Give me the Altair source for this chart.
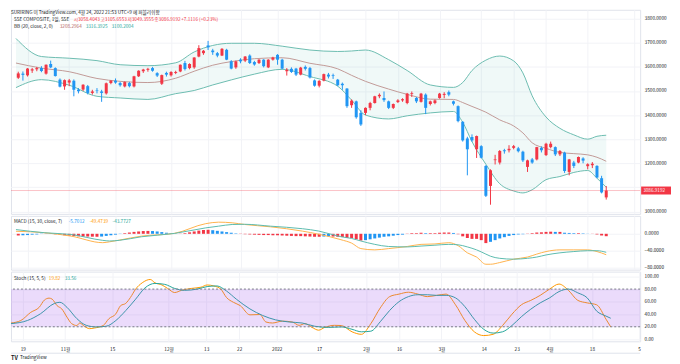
import altair as alt
import pandas as pd

# ---------------- data ----------------
bar_i = list(range(-2, 126))
open_ = [3555, 3572, 3565, 3585, 3590, 3595, 3572, 3612, 3595, 3547, 3519, 3535, 3543, 3506, 3506, 3520, 3492, 3504, 3498, 3490,
         3533, 3543, 3533, 3519, 3533, 3519, 3561, 3582, 3588, 3595, 3574, 3530, 3575, 3565, 3575, 3581, 3616, 3595, 3598, 3643,
         3657, 3689, 3668, 3657, 3647, 3671, 3623, 3598, 3630, 3626, 3647, 3620, 3616, 3630, 3598, 3630, 3650, 3630, 3582, 3592,
         3593, 3568, 3600, 3595, 3544, 3522, 3543, 3568, 3565, 3547, 3530, 3510, 3441, 3457, 3409, 3409, 3430, 3450, 3478, 3471,
         3457, 3430, 3454, 3461, 3450, 3488, 3471, 3455, 3485, 3446, 3450, 3471, 3484, 3495, 3457, 3437, 3372, 3303, 3309, 3258,
         3271, 3189, 3106, 3213, 3203, 3254, 3254, 3264, 3262, 3248, 3185, 3216, 3216, 3264, 3234, 3267, 3267, 3237, 3244, 3164,
         3203, 3203, 3220, 3188, 3192, 3189, 3138, 3058.4043]
high_ = [3580, 3581, 3595, 3596, 3600, 3603, 3610, 3626, 3598, 3552, 3548, 3550, 3548, 3512, 3528, 3525, 3505, 3512, 3505, 3535,
         3545, 3552, 3538, 3540, 3538, 3563, 3586, 3592, 3596, 3600, 3578, 3568, 3580, 3582, 3584, 3610, 3625, 3615, 3640, 3690,
         3670, 3708, 3675, 3662, 3678, 3675, 3628, 3626, 3636, 3645, 3652, 3625, 3632, 3632, 3632, 3642, 3653, 3634, 3595, 3598,
         3596, 3600, 3606, 3600, 3548, 3545, 3572, 3575, 3572, 3550, 3535, 3512, 3465, 3460, 3420, 3432, 3455, 3480, 3490, 3498,
         3460, 3448, 3466, 3470, 3492, 3498, 3475, 3492, 3490, 3460, 3465, 3492, 3495, 3502, 3460, 3440, 3375, 3310, 3320, 3315,
         3275, 3192, 3175, 3235, 3255, 3260, 3275, 3276, 3268, 3252, 3215, 3222, 3268, 3270, 3285, 3290, 3270, 3255, 3248, 3218,
         3210, 3228, 3225, 3200, 3205, 3192, 3148, 3105.6553]
low_ = [3550, 3543, 3560, 3575, 3582, 3578, 3568, 3595, 3560, 3515, 3505, 3520, 3478, 3490, 3500, 3486, 3485, 3490, 3455, 3485,
        3528, 3530, 3518, 3515, 3515, 3515, 3558, 3575, 3580, 3580, 3558, 3525, 3560, 3560, 3570, 3578, 3585, 3590, 3592, 3640,
        3650, 3670, 3650, 3640, 3645, 3628, 3590, 3592, 3615, 3620, 3612, 3605, 3612, 3598, 3595, 3626, 3609, 3590, 3564, 3575,
        3562, 3565, 3585, 3552, 3518, 3515, 3540, 3552, 3550, 3520, 3505, 3430, 3430, 3385, 3355, 3400, 3420, 3448, 3470, 3455,
        3425, 3425, 3450, 3455, 3445, 3475, 3450, 3452, 3404, 3440, 3445, 3468, 3470, 3478, 3440, 3370, 3290, 3150, 3289, 3222,
        3220, 3060, 3028, 3195, 3195, 3240, 3245, 3258, 3245, 3205, 3164, 3198, 3212, 3245, 3230, 3262, 3230, 3230, 3160, 3150,
        3180, 3200, 3200, 3175, 3180, 3138, 3075, 3049.3555]
close_ = [3573, 3567, 3593, 3590, 3595, 3583, 3609, 3598, 3562, 3518, 3545, 3544, 3505, 3499, 3526, 3492, 3498, 3502, 3492, 3532,
          3543, 3535, 3524, 3537, 3520, 3561, 3584, 3589, 3592, 3584, 3564, 3566, 3568, 3579, 3579, 3609, 3591, 3612, 3639, 3678,
          3667, 3681, 3661, 3647, 3675, 3630, 3593, 3623, 3623, 3643, 3616, 3610, 3630, 3603, 3630, 3639, 3630, 3593, 3588, 3579,
          3568, 3597, 3592, 3556, 3522, 3542, 3570, 3560, 3562, 3524, 3524, 3437, 3460, 3391, 3361, 3430, 3450, 3478, 3484, 3462,
          3430, 3446, 3461, 3466, 3489, 3491, 3457, 3489, 3430, 3457, 3461, 3489, 3488, 3485, 3447, 3375, 3295, 3258, 3295, 3313,
          3223, 3065, 3171, 3216, 3251, 3250, 3260, 3271, 3250, 3212, 3212, 3203, 3267, 3254, 3281, 3281, 3237, 3251, 3168, 3216,
          3189, 3226, 3211, 3196, 3198, 3141, 3079, 3086.9192]

bb_i = [-2.5, 3, 9, 15, 20, 26, 32, 36, 40, 44, 49, 55, 61, 67, 70, 73, 78, 82, 87, 92, 94, 96, 99, 102, 105, 107, 109, 112,
        115, 118, 121, 123, 125]
bb_up = [3718, 3643, 3636, 3626, 3609, 3605, 3617, 3662, 3689, 3698, 3698, 3686, 3670, 3664, 3666, 3670, 3630, 3585, 3525,
         3515, 3535, 3585, 3628, 3645, 3625, 3575, 3480, 3392, 3345, 3318, 3300, 3312, 3316.3925]
bb_mid = [3616, 3595, 3580, 3552, 3540, 3535, 3553, 3582, 3607, 3622, 3634, 3638, 3615, 3592, 3565, 3540, 3508, 3486, 3466,
          3465, 3452, 3436, 3412, 3380, 3355, 3326, 3285, 3262, 3245, 3240, 3235, 3225, 3208.2964]
bb_lo = [3514, 3547, 3524, 3478, 3471, 3465, 3489, 3502, 3525, 3546, 3570, 3590, 3560, 3520, 3462, 3400, 3384, 3397, 3409,
         3415, 3370, 3290, 3196, 3115, 3085, 3077, 3090, 3132, 3145, 3162, 3170, 3138, 3100.2004]

macd_i = [-2.5, 3.75, 9.4, 16.25, 17.7, 19.8, 24.6, 31.7, 38.5, 41.25, 44.2, 46.9, 52.5, 59.4, 62.9, 67.7, 70, 72, 75, 78,
          82, 85, 88, 91, 93, 95, 97, 99, 100, 102, 105, 108, 110, 112, 115, 118, 121, 123, 125]
macd_v = [6, 2.4, -5.5, -21, -19, -15, -5.5, 1, 24, 27.5, 26, 22, 16.5, 6.3, -1, -14, -22, -35, -38, -35,
          -30, -25, -24, -21, -28, -45, -55, -72, -72, -68, -60, -55, -48, -42, -38, -38, -38, -42, -49.4739]
sig_v = [10, 2.4, -1.6, -15.5, -17, -15.5, -7, 0.8, 14, 18, 22, 22.5, 18, 12, 6.5, -7, -11, -17, -25, -30,
         -31, -29, -27, -25, -26, -31, -38, -48, -53, -58, -60, -58, -55, -50, -45, -42, -40, -40, -43.7727]
hist_v = [-4, -3.5, -3, -2, -1.5, -0.5, 0.5, 0.8,
          -1, -2, -3.5, -4.5, -5.5, -6, -6.5, -6.5, -6.8, -7, -6.5,
          -5, -3.5, -2, -0.5,
          1.5, 3, 4.5, 5.5, 6.5, 6.8, 6.5,
          5.5, 4, 2.5, 1, 0.3, -0.5,
          1.5, 3.5, 5.5, 7.5, 9, 9.5,
          8.5, 7, 5.5, 4, 2.5, 1,
          -0.5, -1, -1.5, -2, -2.5, -3, -3, -3.5, -3.5, -4, -4.5, -5, -5.5, -5.5, -6, -6.5, -7, -7, -6.5, -6, -6.5, -7,
          -7.5, -10, -10, -13, -16, -15, -13, -11, -9, -7, -6, -4.5, -3, -2, 0.5, 1.5, 1.5, 2.5, 1.5, 1.5, 1.5, 2.5, 3, 3,
          2, -1, -6, -10, -12, -12, -15, -22, -19, -15, -11, -8, -5, -3, -1.5, -1, 0.5, 1.5, 3, 3.5, 4.5, 5, 4.5, 4.5,
          2.5, 2, 1.5, 1.5, 1, 0.3, -0.3, -1.5, -4, -5.7012]

k_i = [-2.5, -0.4, 1.7, 3.5, 4.6, 5.6, 6.25, 7.3, 8.3, 9.4, 10.4, 11.5, 12.1, 13.1, 14.2, 15.2, 17.1, 18.3, 19.8, 20.8,
       21.9, 22.9, 24, 25.4, 27.1, 28.1, 29.6, 30.8, 32.3, 33.75, 35.8, 37.9, 39.2, 40.6, 42.1, 43.3, 44.8, 46.25, 48.3, 50.4,
       51.7, 53.1, 55.2, 57.3, 58.75, 60, 61.5, 62.9, 64.2, 66.25, 67.7, 70, 72, 74, 76, 78, 80, 82, 84, 86,
       88, 90, 92, 94, 96, 98, 100, 102, 104, 106, 108, 110, 112, 114, 116, 118, 120, 122, 124, 125]
k_v = [26, 30, 43, 51, 62.5, 65.6, 64, 53.6, 48.4, 35.4, 25, 22, 26, 20.8, 17, 18, 22, 32.8, 40.6, 53.6,
       57.3, 66.7, 80, 90, 95.3, 90, 86.5, 81, 74.5, 78, 81, 83, 86.5, 85, 80, 66.7, 58.9, 53.6, 39, 39.5,
       27.6, 26, 29, 27.6, 22.3, 25, 19, 14.6, 19, 22.3, 22, 12, 8, 25, 50, 68, 72, 75, 72, 68,
       70, 72, 55, 30, 12, 6, 8, 22, 40, 55, 62, 70, 80, 88, 78, 62, 58, 55, 32, 19.82]
d_i = [-2.5, 1, 3.75, 6.7, 7.9, 9.4, 11.5, 13.5, 15.6, 17.7, 19.8, 21.9, 24, 26, 28.1, 30.2, 32.3, 34.4, 37.1, 39.2,
       41.25, 43.3, 45.4, 48.3, 51, 53.75, 56.7, 59.4, 62.1, 65, 67.7, 70, 72, 74, 76, 78, 80, 82, 84, 86,
       88, 90, 92, 94, 96, 98, 100, 102, 104, 106, 108, 110, 112, 114, 116, 118, 120, 122, 124, 125]
d_v = [25, 30, 40.6, 57, 59, 51, 33, 22.3, 19.8, 20.8, 30, 45.8, 64, 82, 89, 87.5, 81, 78, 80, 84,
       85, 77, 64, 48.4, 38, 31, 27.6, 26, 20.8, 19, 19.8, 16, 12, 13, 28, 46, 60, 68, 71, 71,
       70, 70, 66, 52, 32, 16, 10, 12, 22, 36, 48, 58, 66, 76, 80, 74, 66, 45, 37, 33.56]

tick_i = [0, 9, 19, 31, 39, 46, 54, 63, 73, 80, 89, 98, 105, 112, 121, 131]
tick_t = ['19', '11월', '15', '12월', '13', '22', '2022', '17', '2월', '16', '3월', '14', '23', '4월', '18', '5']
price_ticks = [3000, 3200, 3300, 3400, 3500, 3600, 3700, 3800]   # 3100 sits under the last-price tag
hidden_grid = [3100]
macd_ticks = [-80, -40, 0]
stoch_ticks = [0, 20, 40, 60, 80, 100]

# ---------------- styling / layout ----------------
W, H1, H2, H3 = 632, 205, 54, 70
X_DOM = [-2.5, 131.25]
FONT = "Noto Sans CJK KR"
UP, DN = "#F23645", "#2196F3"
GRID = "#F2F3F7"
TXT = "#131722"
FS = 4.7

xscale = alt.Scale(domain=X_DOM, nice=False, zero=False)
label_expr = "[" + ",".join("'%s'" % t for t in tick_t) + "][indexof([" + ",".join(str(v) for v in tick_i) + "], datum.value)]"


def X(field, labels=False):
    ax = dict(values=tick_i, grid=True, gridColor=GRID, ticks=False, domain=False, title=None, labels=labels)
    if labels:
        ax.update(labelExpr=label_expr, labelFontSize=FS, labelColor=TXT, labelPadding=5, labelFont=FONT)
    return alt.X(f"{field}:Q", scale=xscale, axis=alt.Axis(**ax))


def Yfac(domain, ticks, fmt):
    sc = alt.Scale(domain=domain, nice=False, zero=False)
    ax = alt.Axis(orient="right", values=ticks, format=fmt, grid=True, gridColor=GRID, ticks=False, domain=False,
                  labelFontSize=FS, labelColor=TXT, labelPadding=4, labelFont=FONT, title=None)

    def f(field):
        return alt.Y(f"{field}:Q", scale=sc, axis=ax)
    return f


Yp = Yfac([2990, 3837], price_ticks, ".4f")
Ym = Yfac([-84.7, 42.4], macd_ticks, ".4f")
Ys = Yfac([-3.1, 107.8], stoch_ticks, ".2f")


def label(text, x, y, color, size=FS, weight="normal"):
    return alt.Chart(pd.DataFrame({"t": [text]})).mark_text(
        align="left", baseline="middle", fontSize=size, color=color, font=FONT, fontWeight=weight
    ).encode(x=alt.value(x), y=alt.value(y), text="t:N")


# ---------------- main pane ----------------
candles = pd.DataFrame(dict(i=bar_i, o=open_, h=high_, l=low_, c=close_))
candles["dir"] = ["up" if c >= o else "dn" for o, c in zip(open_, close_)]
dir_color = alt.Color("dir:N", scale=alt.Scale(domain=["up", "dn"], range=[UP, DN]), legend=None)

bb = pd.DataFrame(dict(i=bb_i, up=bb_up, mid=bb_mid, lo=bb_lo))
last = pd.DataFrame({"p": [close_[-1]], "lab": ["%.4f" % close_[-1]]})

grid_extra = alt.Chart(pd.DataFrame({"p": hidden_grid})).mark_rule(color=GRID, strokeWidth=1).encode(y=Yp("p"))
bb_area = alt.Chart(bb).mark_area(color="#26A69A", opacity=0.07, interpolate="monotone").encode(x=X("i"), y=Yp("lo"), y2="up")
bb_upl = alt.Chart(bb).mark_line(color="#6DBCB0", strokeWidth=1, interpolate="monotone").encode(x=X("i"), y=Yp("up"))
bb_lol = alt.Chart(bb).mark_line(color="#6DBCB0", strokeWidth=1, interpolate="monotone").encode(x=X("i"), y=Yp("lo"))
bb_midl = alt.Chart(bb).mark_line(color="#C29A97", strokeWidth=1, interpolate="monotone").encode(x=X("i"), y=Yp("mid"))
last_line = alt.Chart(last).mark_rule(color=UP, opacity=0.3, strokeWidth=1).encode(y=Yp("p"))
wicks = alt.Chart(candles).mark_rule(strokeWidth=1).encode(x=X("i"), y=Yp("l"), y2="h", color=dir_color)
bodies = alt.Chart(candles).mark_bar(width=3).encode(x=X("i"), y=Yp("o"), y2="c", color=dir_color)
last_box = alt.Chart(last).mark_rect(color=UP, height=8).encode(x=alt.value(W + 1), x2=alt.value(W + 31), y=Yp("p"))
last_txt = alt.Chart(last).mark_text(align="left", baseline="middle", color="white", fontSize=FS, font=FONT).encode(
    x=alt.value(W + 3), y=Yp("p"), text="lab:N")

main = alt.layer(
    grid_extra, bb_area, bb_upl, bb_lol, bb_midl, last_line, wicks, bodies, last_box, last_txt,
    label("SURIRING 이 TradingView.com, 4월 24, 2022 21:53 UTC+9 에 퍼블리쉬함", 0, 3, TXT),
    label("SSE COMPOSITE, 1일, SSE", 3, 10, TXT),
    label("시3058.4043", 63, 10, UP),
    label("고3105.6553", 90, 10, UP),
    label("저3049.3555", 117, 10, UP),
    label("종3086.9192", 144, 10, UP),
    label("+7.1116 (+0.23%)", 171, 10, UP),
    label("BB (20, close, 2, 0)", 3, 17, TXT),
    label("3208.2964", 49, 17, "#B5655F"),
    label("3316.3925", 75, 17, "#26A69A"),
    label("3100.2004", 101, 17, "#26A69A"),
).properties(width=W, height=H1)

# ---------------- MACD pane ----------------
hist_cls = []
for n, h in enumerate(hist_v):
    prev = hist_v[n - 1] if n > 0 else h
    if h >= 0:
        hist_cls.append("ps" if h >= prev else "pw")
    else:
        hist_cls.append("ns" if h <= prev else "nw")
hist = pd.DataFrame(dict(i=bar_i, h=hist_v, z=[0] * len(bar_i), cls=hist_cls))
mlines = pd.DataFrame(dict(i=macd_i, m=macd_v, s=sig_v))
hist_color = alt.Color("cls:N", scale=alt.Scale(domain=["ps", "pw", "ns", "nw"],
                                                 range=["#F23645", "#F9BDBD", "#2196F3", "#B9DCF9"]), legend=None)

macd = alt.layer(
    alt.Chart(hist).mark_bar(width=3).encode(x=X("i"), y=Ym("z"), y2="h", color=hist_color),
    alt.Chart(mlines).mark_line(color="#FFB24D", strokeWidth=1, interpolate="monotone").encode(x=X("i"), y=Ym("m")),
    alt.Chart(mlines).mark_line(color="#5DBBAE", strokeWidth=1, interpolate="monotone").encode(x=X("i"), y=Ym("s")),
    label("MACD (15, 30, close, 7)", 3, 6, TXT),
    label("-5.7012", 58, 6, "#2196F3"),
    label("-49.4739", 79, 6, "#FF9800"),
    label("-43.7727", 102, 6, "#26A69A"),
).properties(width=W, height=H2)

# ---------------- Stoch pane ----------------
kdf = pd.DataFrame(dict(i=k_i, v=k_v))
ddf = pd.DataFrame(dict(i=d_i, v=d_v))
band = pd.DataFrame({"a": [20], "b": [80]})
lvls = pd.DataFrame({"v": [20, 80]})

stoch = alt.layer(
    alt.Chart(kdf).mark_line(color="#FF9800", strokeWidth=1, interpolate="monotone").encode(x=X("i", labels=True), y=Ys("v")),
    alt.Chart(ddf).mark_line(color="#26A69A", strokeWidth=1, interpolate="monotone").encode(x=X("i", labels=True), y=Ys("v")),
    alt.Chart(band).mark_rect(color="#9B4DEB", opacity=0.2).encode(y=Ys("a"), y2="b"),
    alt.Chart(lvls).mark_rule(color="#787B86", strokeDash=[2, 2], strokeWidth=1).encode(y=Ys("v")),
    label("Stoch (15, 5, 5)", 3, 7, TXT),
    label("19.82", 38, 7, "#FF9800"),
    label("33.56", 54, 7, "#26A69A"),
    alt.Chart(pd.DataFrame({"a": [0]})).mark_rule(color="#E0E3EB", strokeWidth=1).encode(
        x=alt.value(0), x2=alt.value(W), y=alt.value(H3 + 12)),
    label("TV", 0, H3 + 17, TXT, size=5.5, weight="bold"),
    label("TradingView", 9, H3 + 17, TXT, size=4.7),
).properties(width=W, height=H3)

chart = alt.vconcat(main, macd, stoch, spacing=0).properties(padding=0).configure(font=FONT).configure_view(
    stroke="#E0E3EB", strokeWidth=1)

chart.save("out.html", embed_options={"renderer": "svg", "actions": False})
